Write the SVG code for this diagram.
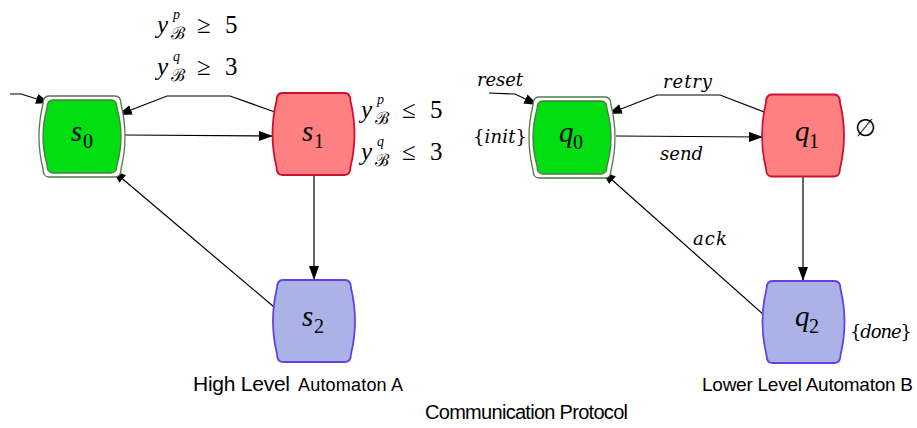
<svg xmlns="http://www.w3.org/2000/svg" width="917" height="428" viewBox="0 0 917 428">
<style>
.edge{fill:none;stroke:#000;stroke-width:1.2}
.math{font-family:"DejaVu Serif","Liberation Serif",serif;fill:#000}
.lm{font-family:"Liberation Serif","DejaVu Serif",serif;fill:#000}
.it{font-style:italic}
.sans{font-family:"Liberation Sans",Arial,sans-serif;fill:#000}
.acc{fill:#00dd11;stroke:#4e7a44;stroke-width:1.3}
.accout{fill:#fff;stroke:#4e7a44;stroke-width:1.3}
.red{fill:#ff8080;stroke:#cc1133;stroke-width:1.8}
.blue{fill:#aab2e6;stroke:#6440e6;stroke-width:1.8}
</style>
<defs>
<marker id="ah" markerUnits="userSpaceOnUse" markerWidth="16" markerHeight="12" refX="14" refY="5" orient="auto">
<path d="M0,0 L14,5 L0,10 Z" fill="#000"/>
</marker>
<path id="nshape" d="M -31,-41 H 31 Q 37,-41 37,-33 Q 45,0 37,33 Q 37,41 31,41 H -31 Q -37,41 -37,33 Q -45,0 -37,-33 Q -37,-41 -31,-41 Z"/>
<path id="ainner" d="M -29,-36.5 H 29 Q 35,-36.5 35,-28.5 Q 43,0 35,28.5 Q 35,36.5 29,36.5 H -29 Q -35,36.5 -35,28.5 Q -43,0 -35,-28.5 Q -35,-36.5 -29,-36.5 Z"/>
<path id="aouter" d="M -33,-40.5 H 33 Q 39,-40.5 39,-32.5 Q 47,0 39,32.5 Q 39,40.5 33,40.5 H -33 Q -39,40.5 -39,32.5 Q -47,0 -39,-32.5 Q -39,-40.5 -33,-40.5 Z"/>
</defs>
<rect width="917" height="428" fill="#fff"/>

<g id="connectors">
<path class="edge" marker-end="url(#ah)" d="M 10,94 L 21,94 L 50,103"/>
<path class="edge" marker-end="url(#ah)" d="M 275,112 L 230,96 L 167,96 L 118,115"/>
<path class="edge" marker-end="url(#ah)" d="M 125,135 L 273,136"/>
<path class="edge" marker-end="url(#ah)" d="M 314,175 L 314,280"/>
<path class="edge" marker-end="url(#ah)" d="M 274,307 L 112,170"/>
<path class="edge" marker-end="url(#ah)" d="M 489,93 L 515,94 L 538,105"/>
<path class="edge" marker-end="url(#ah)" d="M 764,112 L 720,95 L 657,95 L 608,114"/>
<path class="edge" marker-end="url(#ah)" d="M 616,136 L 763,137"/>
<path class="edge" marker-end="url(#ah)" d="M 803,177 L 803,281"/>
<path class="edge" marker-end="url(#ah)" d="M 764,315 L 602,171"/>
</g>

<g id="s0">
<use href="#aouter" class="accout" transform="translate(82,136.5)"/>
<use href="#ainner" class="acc" transform="translate(82,136.5)"/>
<text class="lm it" x="71" y="141" font-size="29">s</text>
<text class="lm" x="83" y="148" font-size="20">0</text>
</g>
<g id="s1">
<use href="#nshape" class="red" transform="translate(313.5,134)"/>
<text class="lm it" x="302" y="141" font-size="29">s</text>
<text class="lm" x="314" y="148" font-size="20">1</text>
</g>
<g id="s2">
<use href="#nshape" class="blue" transform="translate(314,321)"/>
<text class="lm it" x="302" y="326" font-size="29">s</text>
<text class="lm" x="314" y="333" font-size="20">2</text>
</g>
<g id="q0">
<use href="#aouter" class="accout" transform="translate(572,137.5)"/>
<use href="#ainner" class="acc" transform="translate(572,137.5)"/>
<text class="lm it" x="559" y="142" font-size="29">q</text>
<text class="lm" x="573" y="149" font-size="20">0</text>
</g>
<g id="q1">
<use href="#nshape" class="red" transform="translate(803,135.5)"/>
<text class="lm it" x="795" y="141" font-size="29">q</text>
<text class="lm" x="809" y="148" font-size="20">1</text>
</g>
<g id="q2">
<use href="#nshape" class="blue" transform="translate(803.5,322)"/>
<text class="lm it" x="795" y="326" font-size="29">q</text>
<text class="lm" x="809" y="333" font-size="20">2</text>
</g>

<g id="labels-top">
<text class="lm it" x="157" y="33" font-size="25">y</text>
<text class="lm it" x="173" y="19" font-size="14">p</text>
<text class="math" x="171" y="39" font-size="17">ℬ</text>
<text class="lm" x="197" y="33" font-size="25">≥</text>
<text class="lm" x="225" y="33" font-size="25">5</text>
<text class="lm it" x="157" y="75" font-size="25">y</text>
<text class="lm it" x="173" y="61" font-size="14">q</text>
<text class="math" x="171" y="81" font-size="17">ℬ</text>
<text class="lm" x="197" y="75" font-size="25">≥</text>
<text class="lm" x="225" y="75" font-size="25">3</text>
</g>
<g id="labels-s1" transform="translate(204,85)">
<text class="lm it" x="157" y="33" font-size="25">y</text>
<text class="lm it" x="173" y="19" font-size="14">p</text>
<text class="math" x="171" y="39" font-size="17">ℬ</text>
<text class="lm" x="198" y="33" font-size="25">≤</text>
<text class="lm" x="226" y="33" font-size="25">5</text>
<text class="lm it" x="157" y="75" font-size="25">y</text>
<text class="lm it" x="173" y="61" font-size="14">q</text>
<text class="math" x="171" y="81" font-size="17">ℬ</text>
<text class="lm" x="198" y="75" font-size="25">≤</text>
<text class="lm" x="226" y="75" font-size="25">3</text>
</g>

<g id="labels-right">
<text class="math it" x="477" y="86" font-size="18" textLength="46">reset</text>
<text class="math it" x="663" y="88" font-size="18" textLength="49">retry</text>
<text class="math it" x="660" y="160" font-size="18" textLength="43">send</text>
<text class="math it" x="693" y="245" font-size="18" textLength="34">ack</text>
<text class="math" x="473" y="143" font-size="18" textLength="54">{<tspan font-style="italic">init</tspan>}</text>
<text class="math" x="855" y="136" font-size="24">∅</text>
<text class="math" x="850" y="338" font-size="18" textLength="62">{<tspan font-style="italic">done</tspan>}</text>
</g>

<g id="titles">
<text class="sans" x="193" y="391" font-size="21" textLength="97">High Level</text>
<text class="sans" x="298" y="391" font-size="18" textLength="105">Automaton A</text>
<text class="sans" x="702" y="391" font-size="19" textLength="211">Lower Level Automaton B</text>
<text class="sans" x="425" y="419" font-size="20" textLength="203">Communication Protocol</text>
</g>
</svg>
